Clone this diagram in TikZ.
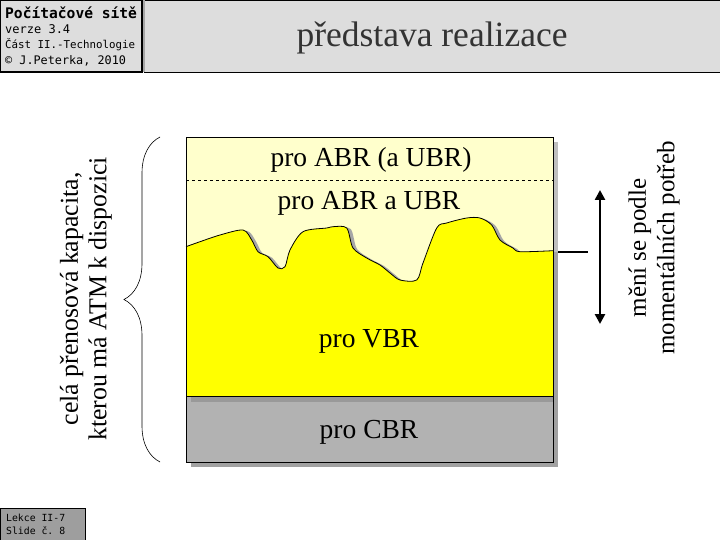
\documentclass[tikz,border=0pt]{standalone}
\usepackage{fontspec}
\setmainfont{Liberation Serif}
\setmonofont{DejaVu Sans Mono}
\usetikzlibrary{arrows.meta, decorations.pathreplacing, positioning}
\definecolor{svetlezluta}{HTML}{FFFFCC}
\definecolor{zluta}{HTML}{FFFF00}
\definecolor{sediva}{HTML}{B2B2B2}
\definecolor{hlavicka}{HTML}{DDDDDD}
\newcommand{\vlna}{-- plot[smooth, tension=.5] coordinates {(186,246.7) (200,241.7) (220,235) (243,230)
    (251.7,240) (258,251.7) (268,256.7) (278,268) (285,266.7) (290,250) (303,231.7)
    (326.7,228) (333,226.7) (346.7,228) (353,248) (366.7,258) (380,265) (390,273)
    (400,280) (416.7,280) (423,263) (436.7,228) (446.7,223) (466.7,218) (480,218)
    (491.7,225) (500,240) (513,248) (520,251.7) (553,250.7)}}
\tikzset{
  vrstva/.style={font=\fontsize{27.5}{30}\selectfont},
  mono/.style={font=\ttfamily\fontsize{#1}{#1}\selectfont, anchor=west, inner sep=0pt},
  popis/.style={rotate=90, align=center, font=\fontsize{25}{28.5}\selectfont},
}

\begin{document}
\begin{tikzpicture}[x=1pt, y=-1pt]
\useasboundingbox (0,0) rectangle (720,540);
\fill[white] (0,0) rectangle (720,540);
% hlavicka
\draw[fill=hlavicka] (144,0) rectangle (720,72);
\draw[fill=hlavicka, line width=1.2pt] (0,0) rectangle (142,72);
\fill[gray!70] (142.6,0) rectangle (145,72);
\node[mono=15, font=\ttfamily\bfseries\fontsize{14.6}{15}\selectfont] (kurz) at (5,13) {Počítačové sítě};
\node[mono=12] (verze) at (5,29) {verze 3.4};
\node[mono=10.8] (cast) at (5,45) {Část II.-Technologie};
\node[mono=11.8] (autor) at (5,61) {© J.Peterka, 2010};
\node[font=\fontsize{35.5}{38}\selectfont, text=black!80] (nadpis) at (432,38) {představa realizace};
% stiny
\fill[black!25] (191,142) rectangle (558,252);
\fill[black!37] (191,252) rectangle (558,467);
% vrstvy
\fill[svetlezluta] (186,137) rectangle (553,396);
\begin{scope}
  \clip (186,137) rectangle (553,396);
  \fill[black!35, shift={(4,1)}] (186,396) -- (186,246.7) \vlna -- (553,396) -- cycle;
\end{scope}
\fill[zluta] (186,396) -- (186,246.7) \vlna -- (553,396) -- cycle;
\draw[line width=.8pt] (186,246.7) \vlna;
\fill[sediva] (186,396) rectangle (553,462);
\fill[black!40] (191,396) rectangle (553,402);
\draw[dashed] (186,180) -- (553,180);
\draw (186,396) -- (553,396);
\draw (186,137) rectangle (553,462);
\node[vrstva] (abr) at (371,160) {pro ABR (a UBR)};
\node[vrstva] (abrubr) at (369,203) {pro ABR a UBR};
\node[vrstva] (vbr) at (369,341) {pro VBR};
\node[vrstva] (cbr) at (369,432) {pro CBR};
% prava strana
\coordinate (urovena) at (558,252);
\coordinate (urovenb) at (588,252);
\draw[line width=2.5pt] (urovena) -- (urovenb);
\coordinate (nahore) at (600,190);
\coordinate (dole) at (600,324);
\draw[line width=2.5pt, {Triangle[length=10pt,width=10pt]}-{Triangle[length=10pt,width=10pt]}] (nahore) -- (dole);
\node[popis] (meni) at (654,248) {mění se podle\\momentálních potřeb};
% leva strana
\coordinate (zavdole) at (160,462);
\coordinate (zavnahore) at (160,137);
\draw[decorate, decoration={brace, amplitude=36pt}, line width=.6pt] (zavdole) -- (zavnahore);
\node[popis, font=\fontsize{25.8}{28.5}\selectfont] (kapacita) at (86,299) {celá přenosová kapacita,\\kterou má ATM k dispozici};
% paticka
\draw[fill=black!38] (0,508) rectangle (85,540);
\node[mono=9.8] (lekce) at (6,518) {Lekce II-7};
\node[mono=9.8] (slide) at (6,531) {Slide č. 8};
\end{tikzpicture}
\end{document}
